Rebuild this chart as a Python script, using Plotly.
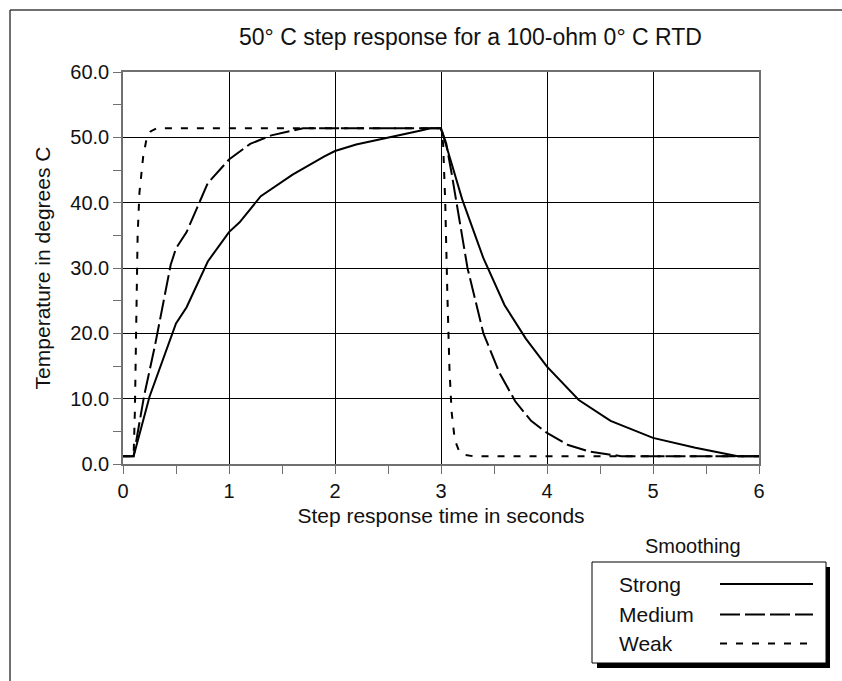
import plotly.graph_objects as go

# ---- data ----
strong_t = [0, 0.1, 0.25, 0.5, 0.6, 0.8, 1.0, 1.1, 1.3, 1.6, 1.9, 2.0, 2.2, 2.5, 2.8, 2.9, 3.0,
            3.1, 3.2, 3.4, 3.6, 3.8, 4.0, 4.3, 4.6, 5.0, 5.4, 5.8, 6.0]
strong_temp = [1.2, 1.2, 10.3, 21.5, 24.0, 31.0, 35.5, 37.0, 41.0, 44.3, 47.1, 47.9, 48.9, 49.9, 51.0, 51.4, 51.4,
               46.0, 40.5, 31.5, 24.3, 19.2, 14.9, 9.8, 6.6, 4.0, 2.5, 1.2, 1.2]

medium_t = [0, 0.1, 0.2, 0.3, 0.45, 0.5, 0.6, 0.8, 1.0, 1.2, 1.4, 1.7, 3.0,
            3.05, 3.1, 3.15, 3.25, 3.4, 3.55, 3.7, 3.85, 4.0, 4.2, 4.4, 4.7, 6.0]
medium_temp = [1.2, 1.2, 10.5, 18.0, 30.5, 33.0, 35.5, 43.0, 46.6, 49.0, 50.3, 51.4, 51.4,
               49.0, 44.5, 39.8, 30.0, 20.0, 14.0, 9.6, 6.6, 4.75, 2.9, 1.9, 1.2, 1.2]

weak_t = [0, 0.1, 0.112, 0.124, 0.138, 0.155, 0.19, 0.22, 0.26, 0.32, 3.0,
          3.02, 3.04, 3.06, 3.08, 3.1, 3.13, 3.17, 3.22, 3.3, 6.0]
weak_temp = [1.2, 1.2, 8.0, 24.0, 35.0, 41.5, 47.0, 49.6, 50.9, 51.4, 51.4,
             49.0, 40.0, 26.0, 14.5, 8.0, 3.7, 2.0, 1.4, 1.2, 1.2]

series_names = ["Strong", "Medium", "Weak"]
series_dash = ["solid", "20px,5px", "7px,9px"]

x_ticks = [0, 1, 2, 3, 4, 5, 6]
y_ticks = [0, 10, 20, 30, 40, 50, 60]

title_text = "50° C step response for a 100-ohm 0° C RTD"
x_title = "Step response time in seconds"
y_title = "Temperature in degrees C"
legend_title = "Smoothing"

FONT = "Liberation Sans, Arial, sans-serif"

# plot area in pixels
W, H = 842, 681
L, R, T, B = 123, 759, 72, 464


def px(x):
    return (x - L) / (R - L)


def py(y):
    return (B - y) / (B - T)


fig = go.Figure()
for name, tx, ty, dash in zip(series_names,
                              [strong_t, medium_t, weak_t],
                              [strong_temp, medium_temp, weak_temp],
                              series_dash):
    fig.add_trace(go.Scatter(x=tx, y=ty, mode="lines", name=name,
                             line=dict(color="black", width=2, dash=dash),
                             showlegend=False))

axis_common = dict(showline=True, mirror=True, linecolor="#707070", linewidth=1.5,
                   showgrid=True, gridcolor="black", gridwidth=1, zeroline=False,
                   ticks="outside", ticklen=8, tickcolor="#707070", tickwidth=1,
                   tickfont=dict(family=FONT, size=20, color="#111"))

fig.update_layout(
    width=W, height=H,
    margin=dict(l=L, r=W - R, t=T, b=H - B, pad=0),
    paper_bgcolor="white", plot_bgcolor="white",
    font=dict(family=FONT, color="#111"),
    xaxis=dict(range=[0, 6], tickvals=x_ticks, ticktext=[str(v) for v in x_ticks],
               minor=dict(dtick=0.5, ticks="outside", ticklen=8, tickcolor="#707070", showgrid=False),
               title=dict(text=x_title, font=dict(family=FONT, size=21, color="#111"), standoff=8),
               **axis_common),
    yaxis=dict(range=[0, 60], tickvals=y_ticks, ticktext=[f"{v:.1f}" for v in y_ticks],
               minor=dict(dtick=5, ticks="outside", ticklen=8, tickcolor="#707070", showgrid=False),
               title=dict(text=y_title, font=dict(family=FONT, size=21, color="#111"), standoff=14),
               **axis_common),
    showlegend=False,
)

shapes = []
# outer frame (top and left edges)
shapes.append(dict(type="line", xref="paper", yref="paper", x0=px(10), y0=py(10), x1=px(842), y1=py(10),
                   line=dict(color="#404040", width=1.5)))
shapes.append(dict(type="line", xref="paper", yref="paper", x0=px(10), y0=py(10), x1=px(10), y1=py(681),
                   line=dict(color="#404040", width=1.5)))
# legend shadow + box
shapes.append(dict(type="rect", xref="paper", yref="paper", x0=px(597), y0=py(567), x1=px(830), y1=py(668),
                   fillcolor="black", line=dict(width=0), layer="above"))
shapes.append(dict(type="rect", xref="paper", yref="paper", x0=px(592), y0=py(562), x1=px(826), y1=py(663),
                   fillcolor="white", line=dict(color="black", width=1), layer="above"))
legend_rows = [584, 614.5, 643.5]
for yy, dash in zip(legend_rows, series_dash):
    shapes.append(dict(type="line", xref="paper", yref="paper", x0=px(720), y0=py(yy), x1=px(813), y1=py(yy),
                       line=dict(color="black", width=2, dash=dash), layer="above"))

annotations = []
annotations.append(dict(text=title_text, xref="paper", yref="paper", x=px(470), y=py(37),
                        xanchor="center", yanchor="middle", showarrow=False,
                        font=dict(family=FONT, size=23, color="#111")))
annotations.append(dict(text=legend_title, xref="paper", yref="paper", x=px(693), y=py(546),
                        xanchor="center", yanchor="middle", showarrow=False,
                        font=dict(family=FONT, size=20, color="#111")))
for yy, name in zip(legend_rows, series_names):
    annotations.append(dict(text=name, xref="paper", yref="paper", x=px(617), y=py(yy),
                            xanchor="left", yanchor="middle", showarrow=False,
                            font=dict(family=FONT, size=21, color="#111")))

fig.update_layout(shapes=shapes, annotations=annotations)
fig.write_html("out.html")
